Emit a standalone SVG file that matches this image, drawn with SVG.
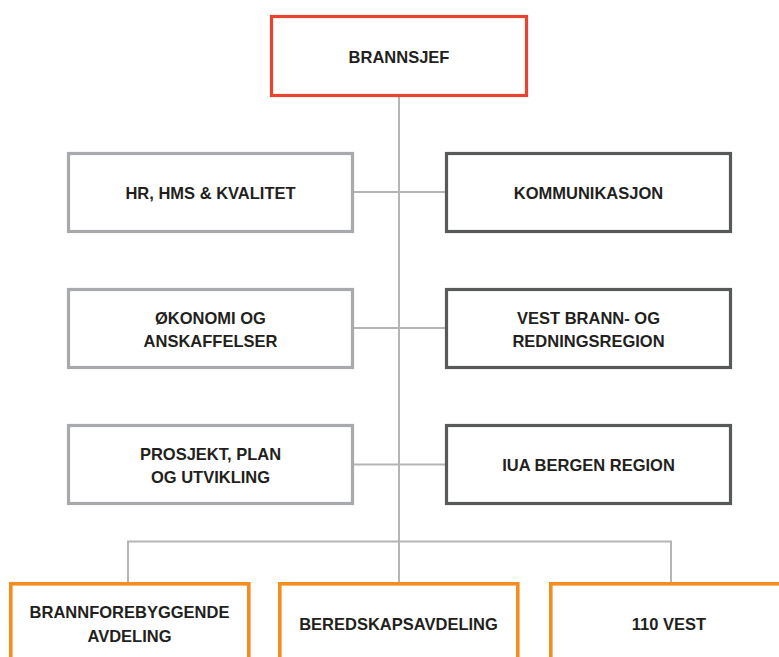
<svg xmlns="http://www.w3.org/2000/svg" width="779" height="657" viewBox="0 0 779 657">
  <style>
    .box { fill: #ffffff; stroke-width: 3.2; }
    .chief { stroke: #E8432E; }
    .staff { stroke: #A7A9AC; }
    .unit { stroke: #58595B; }
    .dept { stroke: #F58C1F; stroke-width: 3.6; }
    .lbl { font-family: "Liberation Sans", Arial, sans-serif; font-weight: bold; font-size: 16.5px; fill: #231F20; text-anchor: middle; }
    .link { stroke: #B5B5B5; stroke-width: 2; fill: none; }
  </style>
  <rect width="779" height="657" fill="#ffffff"/>

  <!-- connectors -->
  <g id="connectors">
    <line class="link" x1="399" y1="96" x2="399" y2="584"/>
    <line class="link" x1="354" y1="192" x2="445" y2="192"/>
    <line class="link" x1="354" y1="328" x2="445" y2="328"/>
    <line class="link" x1="354" y1="464.5" x2="445" y2="464.5"/>
    <polyline class="link" points="128,584 128,541.5 671,541.5 671,584"/>
  </g>

  <!-- top -->
  <g id="brannsjef">
    <rect class="box chief" x="271.5" y="16.5" width="255" height="79"/>
    <text class="lbl" x="399" y="62.5">BRANNSJEF</text>
  </g>

  <!-- staff functions (left) -->
  <g id="hr-hms-kvalitet">
    <rect class="box staff" x="68.5" y="153.5" width="284" height="78"/>
    <text class="lbl" x="210.5" y="198.5">HR, HMS &amp; KVALITET</text>
  </g>
  <g id="okonomi">
    <rect class="box staff" x="68.5" y="289.5" width="284" height="78"/>
    <text class="lbl" x="210.5" y="324">ØKONOMI OG</text>
    <text class="lbl" x="210.5" y="346.5">ANSKAFFELSER</text>
  </g>
  <g id="prosjekt">
    <rect class="box staff" x="68.5" y="425.5" width="284" height="78"/>
    <text class="lbl" x="210.5" y="460">PROSJEKT, PLAN</text>
    <text class="lbl" x="210.5" y="482.5">OG UTVIKLING</text>
  </g>

  <!-- units (right) -->
  <g id="kommunikasjon">
    <rect class="box unit" x="446.5" y="153.5" width="284" height="78"/>
    <text class="lbl" x="588.5" y="198.5">KOMMUNIKASJON</text>
  </g>
  <g id="vest-brann">
    <rect class="box unit" x="446.5" y="289.5" width="284" height="78"/>
    <text class="lbl" x="588.5" y="324">VEST BRANN- OG</text>
    <text class="lbl" x="588.5" y="346.5">REDNINGSREGION</text>
  </g>
  <g id="iua">
    <rect class="box unit" x="446.5" y="425.5" width="284" height="78"/>
    <text class="lbl" x="588.5" y="471">IUA BERGEN REGION</text>
  </g>

  <!-- departments -->
  <g id="brannforebyggende">
    <rect class="box dept" x="10.8" y="583.8" width="238" height="110"/>
    <text class="lbl" x="129.5" y="618">BRANNFOREBYGGENDE</text>
    <text class="lbl" x="129.5" y="642">AVDELING</text>
  </g>
  <g id="beredskap">
    <rect class="box dept" x="279.8" y="583.8" width="238" height="110"/>
    <text class="lbl" x="398.5" y="630">BEREDSKAPSAVDELING</text>
  </g>
  <g id="vest110">
    <rect class="box dept" x="550.8" y="583.8" width="238" height="110"/>
    <text class="lbl" x="669" y="630">110 VEST</text>
  </g>
</svg>
